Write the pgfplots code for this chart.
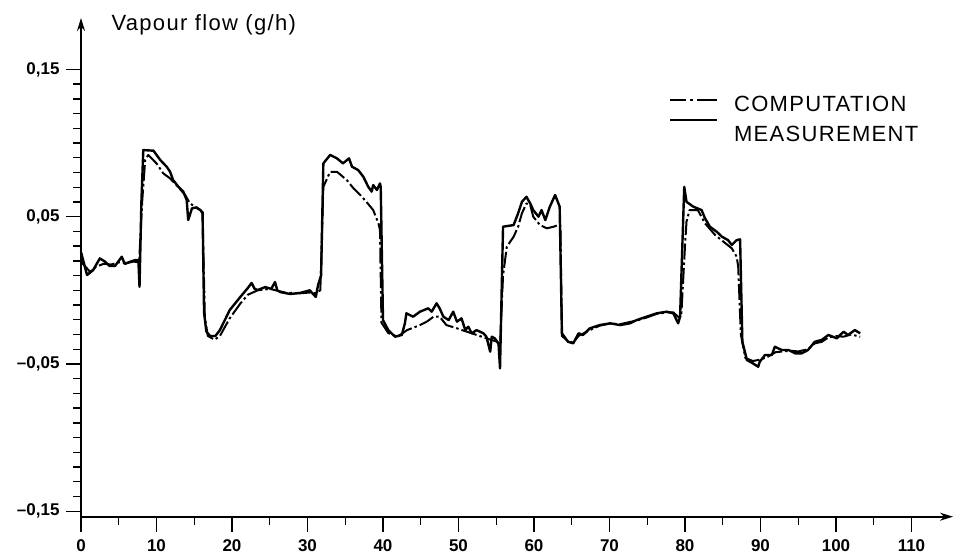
\documentclass[border=0pt]{standalone}
\usepackage{fontspec}
\setmainfont{Liberation Sans}
\usepackage{pgfplots}
\usepackage{pgfplotstable}
\pgfplotsset{compat=1.18}
\usetikzlibrary{arrows.meta}

\newcommand\bigtxt{\fontsize{22bp}{24bp}\selectfont\addfontfeature{LetterSpace=6}}
\newcommand\ticktxt{\fontsize{17bp}{17bp}\selectfont\bfseries}

\pgfplotsset{
    compleg/.style={legend image code/.code={%
        \draw[##1, overlay, dash pattern=on 16bp off 4bp on 3bp off 4bp on 30bp] (0bp,3.5bp) -- (47bp,3.5bp);
        \path[draw=none] (0bp,0bp) (64bp,0bp);}},
    measleg/.style={legend image code/.code={%
        \draw[##1, overlay] (0bp,13.5bp) -- (47bp,13.5bp);
        \path[draw=none] (0bp,0bp) (64bp,0bp);}},
}

% measured vapour flow (g/h) against time
\pgfplotstableread{
x y
0.0 0.026
0.8 0.0104
1.6 0.0137
2.5 0.0217
3.2 0.0194
3.8 0.0165
4.5 0.0165
5.4 0.0228
5.8 0.0179
6.5 0.0194
7.2 0.0206
7.6 0.0206
7.75 0.0024
8.0 0.06
8.25 0.0952
9.0 0.095
9.6 0.0948
10.5 0.0885
11.35 0.0839
11.8 0.0805
12.2 0.0749
12.9 0.0703
13.55 0.067
14.0 0.0613
14.2 0.0477
14.7 0.0557
15.3 0.0563
15.8 0.0545
16.1 0.053
16.3 -0.015
16.6 -0.028
17.1 -0.031
17.8 -0.031
18.4 -0.027
19.7 -0.0134
21.1 -0.0045
22.1 0.0016
22.6 0.005
23.0 0.001
23.4 0.0002
24.4 0.0022
25.2 0.001
25.7 0.0056
26.0 0.0
26.4 -0.0012
27.7 -0.0025
29.0 -0.0018
30.3 0.0
31.1 -0.0045
31.4 0.0036
31.8 0.01
32.1 0.0862
33.0 0.0919
33.9 0.0896
34.7 0.0862
35.5 0.0896
35.9 0.0839
36.7 0.0817
37.4 0.0771
38.05 0.0703
38.5 0.067
38.7 0.0715
39.2 0.0681
39.6 0.0726
39.7 0.07
40.0 -0.0202
40.7 -0.027
41.6 -0.0315
42.5 -0.0303
42.9 -0.0224
43.1 -0.0156
44.0 -0.0179
44.9 -0.0145
46.0 -0.0122
46.45 -0.0145
47.1 -0.0088
47.5 -0.0122
48.0 -0.0179
48.7 -0.0202
49.3 -0.0145
49.8 -0.0213
50.4 -0.019
50.9 -0.027
51.3 -0.0247
51.75 -0.0292
52.4 -0.027
53.3 -0.0292
53.7 -0.0315
54.2 -0.0417
54.4 -0.0315
54.8 -0.0326
55.3 -0.036
55.5 -0.053
55.9 0.0432
57.3 0.0443
57.9 0.0523
58.4 0.0601
59.0 0.0635
59.5 0.059
59.9 0.0545
60.6 0.05
61.0 0.0545
61.5 0.0477
62.1 0.0568
62.8 0.0647
63.4 0.0568
63.7 -0.0292
64.5 -0.0349
65.2 -0.036
65.9 -0.0292
66.5 -0.0303
67.4 -0.0258
68.7 -0.0236
70.1 -0.0224
71.4 -0.0236
72.7 -0.0224
73.6 -0.0202
74.9 -0.0179
76.25 -0.0156
77.6 -0.0145
78.45 -0.0156
79.1 -0.0224
79.35 -0.0179
79.9 0.0703
80.2 0.0601
81.1 0.0568
82.2 0.0545
82.65 0.0489
83.3 0.0432
84.2 0.0398
84.9 0.0364
85.7 0.0341
86.2 0.0308
86.85 0.0341
87.3 0.0346
87.6 -0.035
88.2 -0.0473
89.0 -0.0496
89.7 -0.0519
89.9 -0.0485
90.6 -0.0439
91.5 -0.0439
91.9 -0.0383
92.8 -0.0405
93.7 -0.0405
94.6 -0.0428
95.45 -0.0428
96.3 -0.0405
97.2 -0.0349
98.1 -0.0337
99.0 -0.0303
100.1 -0.0326
101.0 -0.0281
101.6 -0.0303
102.5 -0.027
103.2 -0.0292
}\meas

% computed vapour flow
\pgfplotstableread{
x y
0.0 0.0194
1.2 0.0126
2.0 0.016
3.0 0.018
4.0 0.0175
5.0 0.019
6.0 0.0185
7.0 0.0195
7.7 0.019
8.1 0.06
8.5 0.0885
8.9 0.0919
10.0 0.0862
10.9 0.0794
11.8 0.076
12.85 0.0703
13.8 0.0647
14.4 0.0593
15.1 0.0565
15.8 0.0545
16.1 0.052
16.4 -0.018
16.8 -0.031
17.7 -0.0335
18.4 -0.031
19.7 -0.019
21.1 -0.009
22.1 -0.003
23.4 0.0
25.0 0.001
27.0 -0.0015
29.0 -0.002
30.3 -0.0015
31.1 -0.002
31.7 0.0
32.1 0.0703
33.0 0.0805
33.9 0.0805
35.2 0.0749
36.1 0.0692
37.0 0.0647
37.8 0.0601
38.7 0.0545
39.4 0.0455
39.6 0.0409
39.8 -0.022
40.7 -0.029
41.9 -0.0315
43.2 -0.027
44.9 -0.0236
45.8 -0.0213
46.7 -0.0179
47.5 -0.0179
48.4 -0.0236
49.8 -0.0258
51.1 -0.0281
52.4 -0.0303
53.7 -0.0326
55.1 -0.0349
55.5 -0.0383
55.9 0.01
56.4 0.0296
57.3 0.0364
57.9 0.0432
58.4 0.0523
59.0 0.059
59.5 0.058
59.9 0.05
60.8 0.0443
61.7 0.0421
62.6 0.0432
63.2 0.0443
63.5 0.0443
63.7 -0.031
64.5 -0.0345
65.2 -0.0355
65.9 -0.031
67.4 -0.027
68.7 -0.024
70.1 -0.0225
71.4 -0.023
72.7 -0.0215
73.6 -0.0205
74.9 -0.0185
76.25 -0.016
77.6 -0.015
78.45 -0.015
79.1 -0.018
79.5 -0.018
80.0 0.03
80.2 0.0466
80.6 0.0545
81.7 0.0545
82.65 0.0455
84.0 0.0375
85.1 0.033
86.2 0.0285
86.85 0.0228
87.05 0.016
87.4 -0.03
88.0 -0.046
89.0 -0.048
90.0 -0.047
91.0 -0.045
92.0 -0.042
93.0 -0.0415
94.0 -0.041
95.0 -0.0415
96.3 -0.04
97.2 -0.036
98.1 -0.035
99.0 -0.032
100.1 -0.031
101.0 -0.0315
102.0 -0.03
103.2 -0.0315
}\comp

\begin{document}
\begin{tikzpicture}
\useasboundingbox (-81bp,-39.3bp) rectangle (874bp,516.7bp);
\begin{axis}[
    scale only axis,
    width=872bp, height=498.7bp,
    xmin=0, xmax=115.5,
    ymin=-0.1537, ymax=0.1849,
    axis x line=bottom, axis y line=left,
    axis line style={line width=1.6bp},
    x axis line style={-{Stealth[length=13bp,width=8bp]}},
    y axis line style={-{Stealth[length=13bp,width=8bp]}},
    tick align=outside,
    major tick length=15bp, minor tick length=8bp,
    every tick/.style={black, line width=1.4bp},
    xtick={0,10,20,30,40,50,60,70,80,90,100,110},
    xticklabels={0,10,20,30,40,50,60,70,80,90,100,110},
    minor xtick={5,15,25,35,45,55,65,75,85,95,105},
    ytick={-0.15,-0.05,0.05,0.15},
    yticklabels={{--0,15},{--0,05},{0,05},{0,15}},
    minor ytick={-0.14,-0.13,-0.12,-0.11,-0.1,-0.09,-0.08,-0.07,-0.06,-0.04,-0.03,-0.02,-0.01,0,0.01,0.02,0.03,0.04,0.06,0.07,0.08,0.09,0.1,0.11,0.12,0.13,0.14},
    tick label style={font=\ticktxt},
    xticklabel style={yshift=-4bp},
    yticklabel style={xshift=-3bp},
    clip=false,
    legend cell align=left,
    legend style={at={(axis cs:78.0,0.1325)}, anchor=north west,
        draw=none, fill=none, inner sep=0pt, row sep=14bp,
        font=\bigtxt,
        nodes={inner sep=0pt, text height=16bp, text depth=0pt}},
]
\addplot[black, line width=2bp, line join=round,
    dash pattern=on 16bp off 3bp on 2.5bp off 3bp, compleg]
    table {\comp};
\addplot[black, line width=2.4bp, line join=round, measleg]
    table {\meas};
\legend{COMPUTATION, MEASUREMENT}
\node[anchor=base west, font=\bigtxt] at (axis cs:3.58,0.1767) {Vapour flow (g/h)};
\end{axis}
\end{tikzpicture}
\end{document}
